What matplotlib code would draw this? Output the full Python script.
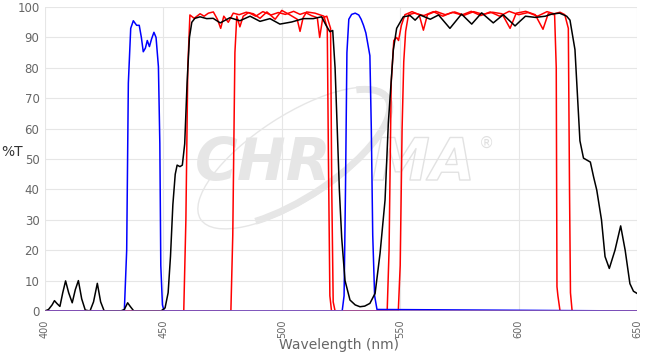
import numpy as np
import matplotlib
matplotlib.use('Agg')
import matplotlib.pyplot as plt
import matplotlib.patheffects as pe
from matplotlib.patches import Arc

# blue filter (two pass bands)
blue_wl = [400, 433.5, 434.5, 435.2, 436.2, 437.3, 438.7, 439.8, 440.7, 441.5, 442.4,
           443.2, 444.1, 445.0, 446.0, 446.9, 447.9, 448.5, 448.9, 449.6, 450.3,
           525.5, 526.3, 526.9, 527.5, 528.3, 529.5, 531.0, 532.5, 533.5, 534.5,
           535.5, 536.3, 537.2, 537.8, 538.4, 539.2, 540.2, 650]
blue_t = [0, 0, 20, 75, 93, 95.5, 94, 94, 90, 85.3, 86.5,
          89, 87, 89.5, 91.7, 90, 80.4, 55, 15, 2, 0,
          0, 5, 40, 85, 96, 97.6, 98, 97.4, 96, 94,
          91.5, 88, 84, 60, 25, 5, 0.5, 0]

# black filter
black_wl = [400, 401.5, 403, 404, 405, 406.3, 407.5, 408.7, 410, 411.5, 412.8, 414.1,
            415.5, 417, 419, 420.5, 422.1, 423.5, 425, 432, 433.5, 434.9, 436, 437.5,
            449, 450.7, 452, 453, 454, 455, 455.8, 457, 458, 459, 460, 461, 462, 463.3,
            465.5, 468.3, 471, 474, 478.1, 482.3, 486.6, 490.8, 495, 499.2, 504.2,
            509.1, 513.3, 516.8, 518.7, 520.3, 521.5, 522.5, 523.5, 524.3, 525.3,
            526.7, 528.8, 531, 533, 535, 537.2, 539.4, 541.5, 543.6, 545, 547.1,
            548.5, 551.3, 554.2, 556.3, 558.4, 562.7, 566.2, 571, 575.9, 580.2,
            584.4, 589.3, 593.5, 598.5, 600.1, 602.9, 607.1, 611.3, 614.1, 617.3,
            620.3, 621.7, 623.8, 625.9, 627.4, 630.3, 631.7, 633, 635, 636.5, 638.3,
            640.7, 643.1, 645, 647, 648.5, 650]
black_t = [0, 0.5, 2, 3.4, 2.5, 1.5, 6, 9.9, 6, 2.7, 7, 10,
           4, 0.3, 0, 3, 9.1, 3, 0, 0, 0.5, 2.7, 1.5, 0,
           0, 1, 6, 18, 35, 45, 48, 47.5, 48, 55, 75, 90, 95, 96.3,
           96.8, 96.2, 96.3, 94.8, 96.5, 95.5, 97, 95.3, 96.2, 94.4, 95.1,
           96.2, 96.2, 96.8, 94, 91.9, 92.3, 80, 58, 40, 24,
           10, 3.6, 2, 1.4, 1.6, 2.5, 5.8, 19, 36.5, 62, 85.9,
           93, 96.8, 97.2, 95.7, 97.4, 96, 97.4, 93, 97.7, 94.4,
           98.1, 94.8, 97.5, 93.8, 95, 97, 96.6, 97, 97.7, 98,
           97, 95.7, 86, 56, 50.3, 49, 44, 39.8, 30, 17.9, 14,
           20, 28, 20, 9, 6.5, 5.8]

# red filter A
redA_wl = [400, 458.6, 459.5, 460.3, 461.2, 463, 465.5, 467.2, 469, 471.1, 472.8, 474.2,
           475.5, 477.4, 479.5, 482, 485, 488, 490.8, 493.7, 497.2, 500, 503.5, 506.5,
           507.7, 509, 510.5, 514, 517.8, 519.2, 519.7, 520.3, 521, 544.5, 545.3, 546.2,
           547.3, 548.5, 549.3, 550.5, 552, 555, 558, 559.8, 561.5, 565, 569, 573,
           577, 581, 585, 589, 593, 596.4, 599, 603, 607, 610.3, 612.5, 615.2, 615.9,
           616.2, 616.6, 617.5, 650]
redA_t = [0, 0, 30, 80, 97.4, 96.3, 97.8, 97, 98, 98.4, 96, 93,
          97, 95, 98, 97.5, 98.3, 97.8, 96.3, 98.4, 96, 98.9, 97.4, 96,
          92, 96.5, 98.4, 98, 97, 93, 50, 5, 0, 0, 20, 75,
          89, 90, 89, 94, 97.5, 98.5, 97.5, 92.4, 97.5, 98.6, 97.5, 98.4,
          97.3, 98.5, 97.6, 98.3, 97.8, 93, 98, 98.6, 97.5, 92.7, 97.8, 97.5, 80,
          8, 5, 0, 0]

# red filter B
redB_wl = [400, 478.5, 479.3, 480.2, 481, 482.3, 483.7, 486, 489, 492, 495.5, 498.5,
           501.5, 505, 507.7, 510, 512.5, 515, 516, 517.3, 519, 520.6, 521.1, 521.7,
           522.5, 549.2, 550, 550.8, 551.5, 552.3, 553.5, 556, 560, 564, 568, 572,
           576, 580, 584, 588, 592, 596, 600, 604, 608, 612, 615, 617.5, 619.5, 621,
           621.5, 621.9, 622.6, 650]
redB_t = [0, 0, 25, 85, 97, 93.5, 97, 98.2, 97, 98.5, 97.4, 98.2,
          97.6, 98.6, 97.6, 98.2, 97.2, 96.5, 90, 96.5, 97, 93, 40, 3,
          0, 0, 15, 60, 82, 92, 97.5, 98, 97.2, 98.5, 97, 98.3,
          97.4, 98.6, 97.2, 98.4, 97, 98.6, 97.5, 98.2, 97, 98.5, 97.8, 98.3, 97.5, 93,
          40, 6, 0, 0]

fig = plt.figure(figsize=(6.52, 3.54), dpi=100)
ax = fig.add_axes([0.069, 0.1215, 0.908, 0.8585])

# watermark logo
ax.text(0.253, 0.431, 'CHR', transform=ax.transAxes, fontsize=42, fontweight='bold',
        style='italic', color='#e6e6e6', ha='left', va='baseline', zorder=1)
ax.text(0.552, 0.431, 'MA', transform=ax.transAxes, fontsize=42, fontweight='bold',
        style='italic', color='none', ha='left', va='baseline', zorder=1,
        path_effects=[pe.Stroke(linewidth=1.0, foreground='#e2e2e2')])
ax.text(0.745, 0.553, '\u00ae', transform=ax.transAxes, fontsize=11,
        color='#e0e0e0', ha='center', va='center', zorder=1)
ax.add_patch(Arc((2.95, 1.96), 2.25, 0.85, angle=33, theta1=0, theta2=360,
                 transform=fig.dpi_scale_trans, color='#e6e6e6', lw=1, zorder=1))
ax.add_patch(Arc((2.95, 1.96), 2.2, 0.8, angle=33, theta1=205, theta2=375,
                 transform=fig.dpi_scale_trans, color='#e6e6e6', lw=5, zorder=1))

ax.plot(redA_wl, redA_t, color='#ff0000', lw=1.1, zorder=3)
ax.plot(redB_wl, redB_t, color='#ff0000', lw=1.1, zorder=3)
ax.plot(blue_wl, blue_t, color='#0000ff', lw=1.1, zorder=4)
ax.plot(black_wl, black_t, color='#000000', lw=1.1, zorder=5)
ax.axhline(0, color='#9060b0', lw=1.2, zorder=6)

ax.set_xlim(400, 650)
ax.set_ylim(0, 100)
ax.set_xticks([400, 450, 500, 550, 600, 650])
ax.set_yticks(np.arange(0, 101, 10))
ax.grid(True, color='#e6e6e6', lw=0.8, zorder=0)
ax.set_axisbelow(True)
for s in ax.spines.values():
    s.set_visible(False)
ax.tick_params(length=0, colors='#666666')
ax.tick_params(axis='x', labelsize=7, labelrotation=90, pad=6)
ax.tick_params(axis='y', labelsize=8.5, pad=4)

fig.text(0.018, 0.57, '%T', fontsize=10, color='#333333', ha='center', va='center')
fig.text(0.52, 0.025, 'Wavelength (nm)', fontsize=10, color='#666666', ha='center', va='center')

fig.savefig('out.png', dpi=100)
